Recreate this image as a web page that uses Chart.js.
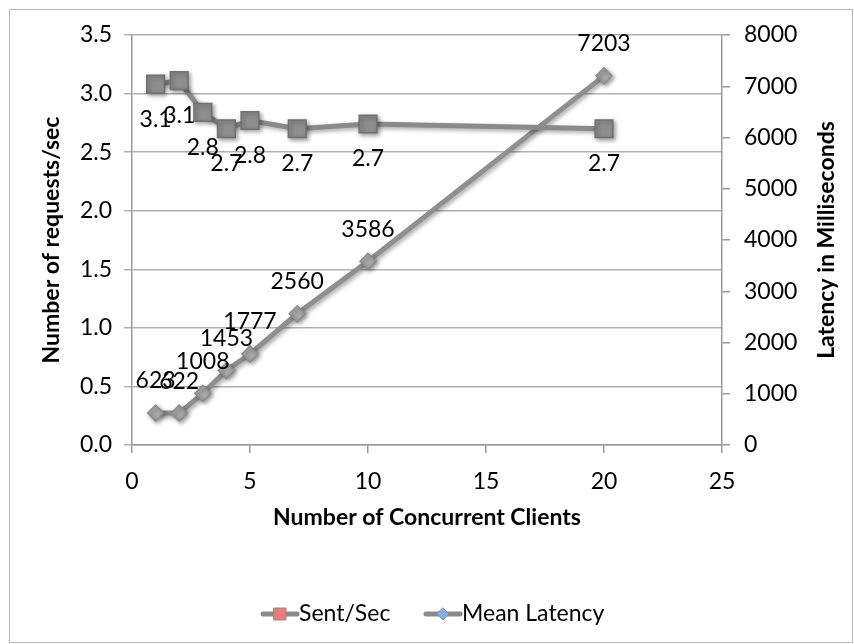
<!DOCTYPE html>
<html>
<head>
<meta charset="utf-8">
<title>Requests and latency by concurrent clients</title>
<script src="https://cdn.jsdelivr.net/npm/chart.js@4/dist/chart.umd.min.js"></script>
<style>
  html, body { margin: 0; padding: 0; background: #fff; }
  #wrap { width: 854px; height: 644px; }
</style>
</head>
<body>
<div id="wrap"><canvas id="clientsChart" width="854" height="644"></canvas></div>
<script>
const clients = [1, 2, 3, 4, 5, 7, 10, 20];
const sentPerSec = [3.08, 3.11, 2.84, 2.70, 2.77, 2.70, 2.74, 2.70];
const meanLatency = [623, 622, 1008, 1453, 1777, 2560, 3586, 7203];
const seriesNames = ['Sent/Sec', 'Mean Latency'];
const latencyTitle = 'Latency in Milliseconds';

const LINE_GREY = '#8a8a8a';
const FONT = 'Lato, "Open Sans", sans-serif';
const FONT_SIZE = 23;

Chart.defaults.font.family = FONT;
Chart.defaults.font.size = FONT_SIZE;
Chart.defaults.color = '#000';

function toPoints(xs, ys) {
    return xs.map((x, i) => ({ x: x, y: ys[i] }));
}

// outer frame around the whole chart
const framePlugin = {
    id: 'frame',
    beforeDraw(chart) {
        const ctx = chart.ctx;
        ctx.save();
        ctx.fillStyle = '#fff';
        ctx.fillRect(0, 0, chart.width, chart.height);
        ctx.strokeStyle = '#b8b8b8';
        ctx.lineWidth = 1;
        ctx.strokeRect(9.5, 9.5, 843, 633);
        ctx.restore();
    }
};

// soft drop shadow under the lines and markers
const shadowPlugin = {
    id: 'lineShadow',
    beforeDatasetDraw(chart) {
        const ctx = chart.ctx;
        ctx.save();
        ctx.shadowColor = 'rgba(0,0,0,0.35)';
        ctx.shadowBlur = 4;
        ctx.shadowOffsetX = 2;
        ctx.shadowOffsetY = 2;
    },
    afterDatasetDraw(chart) {
        chart.ctx.restore();
    }
};

// value labels: below the squares, above the diamonds
const valueLabelPlugin = {
    id: 'valueLabels',
    afterDatasetsDraw(chart) {
        const ctx = chart.ctx;
        ctx.save();
        ctx.font = FONT_SIZE + 'px ' + FONT;
        ctx.fillStyle = '#000';
        ctx.textAlign = 'center';
        ctx.textBaseline = 'middle';
        chart.data.datasets.forEach((ds, di) => {
            const meta = chart.getDatasetMeta(di);
            meta.data.forEach((pt, i) => {
                const v = ds.data[i].y;
                const text = di === 0 ? v.toFixed(1) : String(v);
                const dy = di === 0 ? 35 : -32;
                ctx.fillText(text, pt.x, pt.y + dy);
            });
        });
        ctx.restore();
    }
};

// right axis title, read bottom-to-top like the left one
const rightTitlePlugin = {
    id: 'rightTitle',
    afterDraw(chart) {
        const area = chart.chartArea;
        const ctx = chart.ctx;
        ctx.save();
        ctx.translate(827, (area.top + area.bottom) / 2);
        ctx.rotate(-Math.PI / 2);
        ctx.font = 'bold ' + FONT_SIZE + 'px ' + FONT;
        ctx.fillStyle = '#000';
        ctx.textAlign = 'center';
        ctx.textBaseline = 'middle';
        ctx.fillText(latencyTitle, 0, 0);
        ctx.restore();
    }
};

// legend with a line segment and marker for each series
const legendPlugin = {
    id: 'lineLegend',
    afterDraw(chart) {
        const ctx = chart.ctx;
        const y = 614;
        const items = [
            { label: seriesNames[0], shape: 'square', fill: '#ec7b7b', x: 261 },
            { label: seriesNames[1], shape: 'diamond', fill: '#7fb2ea', x: 424 }
        ];
        ctx.save();
        ctx.font = FONT_SIZE + 'px ' + FONT;
        ctx.textBaseline = 'middle';
        ctx.textAlign = 'left';
        items.forEach(it => {
            ctx.strokeStyle = LINE_GREY;
            ctx.lineWidth = 5;
            ctx.lineCap = 'round';
            ctx.beginPath();
            ctx.moveTo(it.x + 2, y);
            ctx.lineTo(it.x + 36, y);
            ctx.stroke();
            const cx = it.x + 19;
            ctx.fillStyle = it.fill;
            ctx.strokeStyle = '#8c8c8c';
            ctx.lineWidth = 1;
            ctx.beginPath();
            if (it.shape === 'square') {
                ctx.rect(cx - 6, y - 6, 12, 12);
            } else {
                ctx.moveTo(cx, y - 6);
                ctx.lineTo(cx + 6, y);
                ctx.lineTo(cx, y + 6);
                ctx.lineTo(cx - 6, y);
                ctx.closePath();
            }
            ctx.fill();
            ctx.stroke();
            ctx.fillStyle = '#000';
            ctx.fillText(it.label, it.x + 38, y);
        });
        ctx.restore();
    }
};

const config = {
    type: 'line',
    data: {
        datasets: [
            {
                label: seriesNames[0],
                data: toPoints(clients, sentPerSec),
                yAxisID: 'yReq',
                borderColor: LINE_GREY,
                borderWidth: 5,
                pointStyle: 'rect',
                pointRadius: 12.5,
                pointBackgroundColor: '#8e8e8e',
                pointBorderColor: '#707070',
                pointBorderWidth: 1.5
            },
            {
                label: seriesNames[1],
                data: toPoints(clients, meanLatency),
                yAxisID: 'yLat',
                borderColor: '#8f8f8f',
                borderWidth: 5,
                pointStyle: 'rectRot',
                pointRadius: 8,
                pointBackgroundColor: '#a9a9a9',
                pointBorderColor: '#8c8c8c',
                pointBorderWidth: 1.5
            }
        ]
    },
    options: {
        responsive: false,
        animation: false,
        layout: { padding: { top: 35, right: 0, bottom: 113, left: 0 } },
        plugins: {
            legend: { display: false },
            tooltip: { enabled: false }
        },
        scales: {
            x: {
                type: 'linear',
                min: 0,
                max: 25,
                ticks: { stepSize: 5, padding: 15 },
                grid: { drawOnChartArea: false, tickLength: 8, color: '#9a9a9a', lineWidth: 1.5 },
                border: { color: '#9a9a9a', width: 1.5 },
                title: {
                    display: true,
                    text: 'Number of Concurrent Clients',
                    font: { weight: 'bold', size: FONT_SIZE },
                    padding: { top: 0, bottom: 0 }
                },
                afterFit(scale) { scale.height = 86; }
            },
            yReq: {
                type: 'linear',
                position: 'left',
                min: 0,
                max: 3.5,
                ticks: { stepSize: 0.5, padding: 12, callback: v => v.toFixed(1) },
                grid: { tickLength: 8, color: '#b0b0b0', lineWidth: 1.5 },
                border: { color: '#9a9a9a', width: 1.5 },
                title: {
                    display: true,
                    text: 'Number of requests/sec',
                    font: { weight: 'bold', size: FONT_SIZE },
                    padding: { top: 38, bottom: 0 }
                },
                afterFit(scale) { scale.width = 132; }
            },
            yLat: {
                type: 'linear',
                position: 'right',
                min: 0,
                max: 8000,
                ticks: { stepSize: 1000, padding: 14, callback: v => String(v) },
                grid: { drawOnChartArea: false, tickLength: 8, color: '#9a9a9a', lineWidth: 1.5 },
                border: { color: '#9a9a9a', width: 1.5 },
                title: { display: false },
                afterFit(scale) { scale.width = 132; }
            }
        }
    },
    plugins: [framePlugin, shadowPlugin, valueLabelPlugin, rightTitlePlugin, legendPlugin]
};

new Chart(document.getElementById('clientsChart'), config);
</script>
</body>
</html>
